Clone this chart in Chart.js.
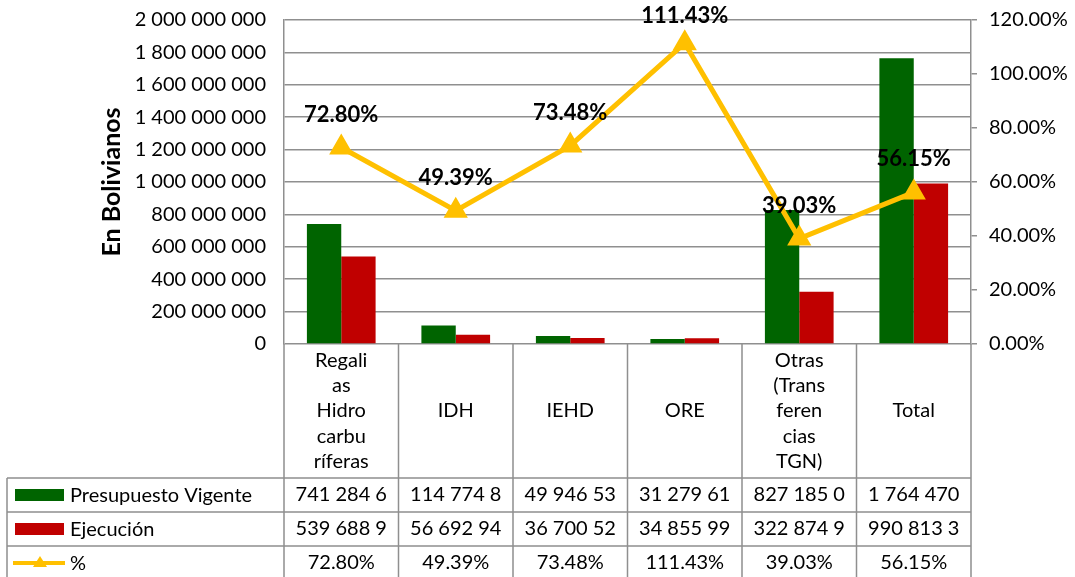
<!DOCTYPE html>
<html>
<head>
<meta charset="utf-8">
<script src="https://cdn.jsdelivr.net/npm/chart.js@4/dist/chart.umd.min.js"></script>
<style>
  html, body { margin: 0; padding: 0; background: #fff; }
  #wrap { width: 1075px; height: 577px; position: relative; }
</style>
</head>
<body>
<div id="wrap"><canvas id="chart"></canvas></div>
<script>
// Data
const categories = [
  ['Regali', 'as', 'Hidro', 'carbu', 'ríferas'],
  ['IDH'],
  ['IEHD'],
  ['ORE'],
  ['Otras', '(Trans', 'feren', 'cias', 'TGN)'],
  ['Total']
];
const presupuesto = [741284650, 114774820, 49946530, 31279610, 827185040, 1764470650];
const ejecucion = [539688920, 56692940, 36700520, 34855990, 322874920, 990813350];
const porcentaje = [72.80, 49.39, 73.48, 111.43, 39.03, 56.15];
const seriesNames = ['Presupuesto Vigente', 'Ejecución', '%'];

const green = '#006400';
const red = '#c00000';
const yellow = '#ffc000';
const gridGray = '#8f8f8f';
const font = 'Lato, "Open Sans", sans-serif';

const fmt = n => Math.round(n).toString().replace(/\B(?=(\d{3})+(?!\d))/g, ' ');

// Labels above the % line
const pctLabels = {
  id: 'pctLabels',
  afterDatasetsDraw(chart) {
    const ctx = chart.ctx;
    const meta = chart.getDatasetMeta(2);
    ctx.save();
    ctx.font = 'bold 22px ' + font;
    ctx.fillStyle = '#000';
    ctx.textAlign = 'center';
    ctx.textBaseline = 'middle';
    meta.data.forEach((p, i) => {
      ctx.fillText(porcentaje[i].toFixed(2) + '%', p.x, Math.max(p.y - 33, 16));
    });
    ctx.restore();
  }
};

// Data table under the plot
const dataTable = {
  id: 'dataTable',
  afterDraw(chart) {
    const ctx = chart.ctx;
    const xs = chart.scales.x;
    const area = chart.chartArea;
    const n = categories.length;
    const cw = (area.right - area.left) / n;
    const top = area.bottom;
    const rowTop = 478, rowH = 34, tableLeft = 7, bottom = 577;

    ctx.save();
    ctx.strokeStyle = gridGray;
    ctx.lineWidth = 1.5;
    ctx.beginPath();
    for (let i = 0; i <= n; i++) {
      const x = area.left + i * cw;
      ctx.moveTo(x, top); ctx.lineTo(x, bottom);
    }
    ctx.moveTo(tableLeft, rowTop); ctx.lineTo(tableLeft, bottom);
    for (let r = 0; r < 3; r++) {
      const y = rowTop + r * rowH;
      ctx.moveTo(tableLeft, y); ctx.lineTo(area.right, y);
    }
    ctx.stroke();

    ctx.fillStyle = '#000';
    ctx.font = '20px ' + font;
    ctx.textAlign = 'center';
    ctx.textBaseline = 'middle';

    // category labels
    const lh = 25.3;
    const midCat = (top + rowTop) / 2;
    categories.forEach((lines, i) => {
      const x = xs.getPixelForValue(i);
      const y0 = midCat - (lines.length - 1) * lh / 2;
      lines.forEach((t, j) => ctx.fillText(t, x, y0 + j * lh));
    });

    // rows
    const rows = [presupuesto, ejecucion, porcentaje];
    rows.forEach((vals, r) => {
      const cy = rowTop + r * rowH + rowH / 2;
      vals.forEach((v, i) => {
        const x = xs.getPixelForValue(i);
        let s;
        if (r === 2) {
          s = v.toFixed(2) + '%';
        } else {
          s = fmt(v);
          while (s.length && ctx.measureText(s).width > cw - 20) s = s.slice(0, -1);
          s = s.trimEnd();
        }
        ctx.fillText(s, x, cy);
      });
    });

    // legend keys + names
    ctx.textAlign = 'left';
    seriesNames.forEach((name, r) => {
      const cy = rowTop + r * rowH + rowH / 2;
      if (r < 2) {
        ctx.fillStyle = r === 0 ? green : red;
        ctx.fillRect(15, cy - 6, 49, 12);
      } else {
        ctx.strokeStyle = yellow;
        ctx.lineWidth = 4;
        ctx.beginPath();
        ctx.moveTo(13, cy); ctx.lineTo(65, cy);
        ctx.stroke();
        ctx.fillStyle = yellow;
        ctx.beginPath();
        ctx.moveTo(40, cy - 7); ctx.lineTo(47, cy + 4); ctx.lineTo(33, cy + 4);
        ctx.closePath();
        ctx.fill();
      }
      ctx.fillStyle = '#000';
      ctx.fillText(name, 70, cy + 1);
    });
    ctx.restore();
  }
};

new Chart(document.getElementById('chart'), {
  type: 'bar',
  data: {
    labels: categories,
    datasets: [
      {
        label: seriesNames[0],
        data: presupuesto,
        backgroundColor: green,
        yAxisID: 'y',
        order: 1
      },
      {
        label: seriesNames[1],
        data: ejecucion,
        backgroundColor: red,
        yAxisID: 'y',
        order: 1
      },
      {
        label: seriesNames[2],
        type: 'line',
        data: porcentaje,
        borderColor: yellow,
        backgroundColor: yellow,
        borderWidth: 5,
        pointStyle: 'triangle',
        pointRadius: 9,
        pointHoverRadius: 9,
        tension: 0,
        yAxisID: 'y1',
        order: 0
      }
    ]
  },
  options: {
    responsive: true,
    maintainAspectRatio: false,
    animation: false,
    events: [],
    categoryPercentage: 0.6,
    barPercentage: 1.0,
    layout: { padding: { left: 97, top: 20, right: 0, bottom: 233 } },
    plugins: {
      legend: { display: false },
      tooltip: { enabled: false }
    },
    scales: {
      x: { display: false },
      y: {
        position: 'left',
        min: 0,
        max: 2000000000,
        afterFit: s => { s.width = 187; s.paddingTop = 0; s.paddingBottom = 0; },
        ticks: {
          stepSize: 200000000,
          padding: 18,
          color: '#000',
          font: { family: font, size: 20 },
          callback: v => fmt(v)
        },
        grid: { color: gridGray, lineWidth: 1.5, drawTicks: false },
        border: { color: gridGray, width: 1.5 },
        title: {
          display: true,
          text: 'En Bolivianos',
          color: '#000',
          padding: 0,
          font: { family: font, size: 25, weight: 'bold' }
        }
      },
      y1: {
        position: 'right',
        min: 0,
        max: 120,
        afterFit: s => { s.width = 104; s.paddingTop = 0; s.paddingBottom = 0; },
        ticks: {
          stepSize: 20,
          padding: 12,
          color: '#000',
          font: { family: font, size: 20 },
          callback: v => v.toFixed(2) + '%'
        },
        grid: { drawOnChartArea: false, color: gridGray, lineWidth: 1.5, tickLength: 6 },
        border: { color: gridGray, width: 1.5 }
      }
    }
  },
  plugins: [pctLabels, dataTable]
});
</script>
</body>
</html>
